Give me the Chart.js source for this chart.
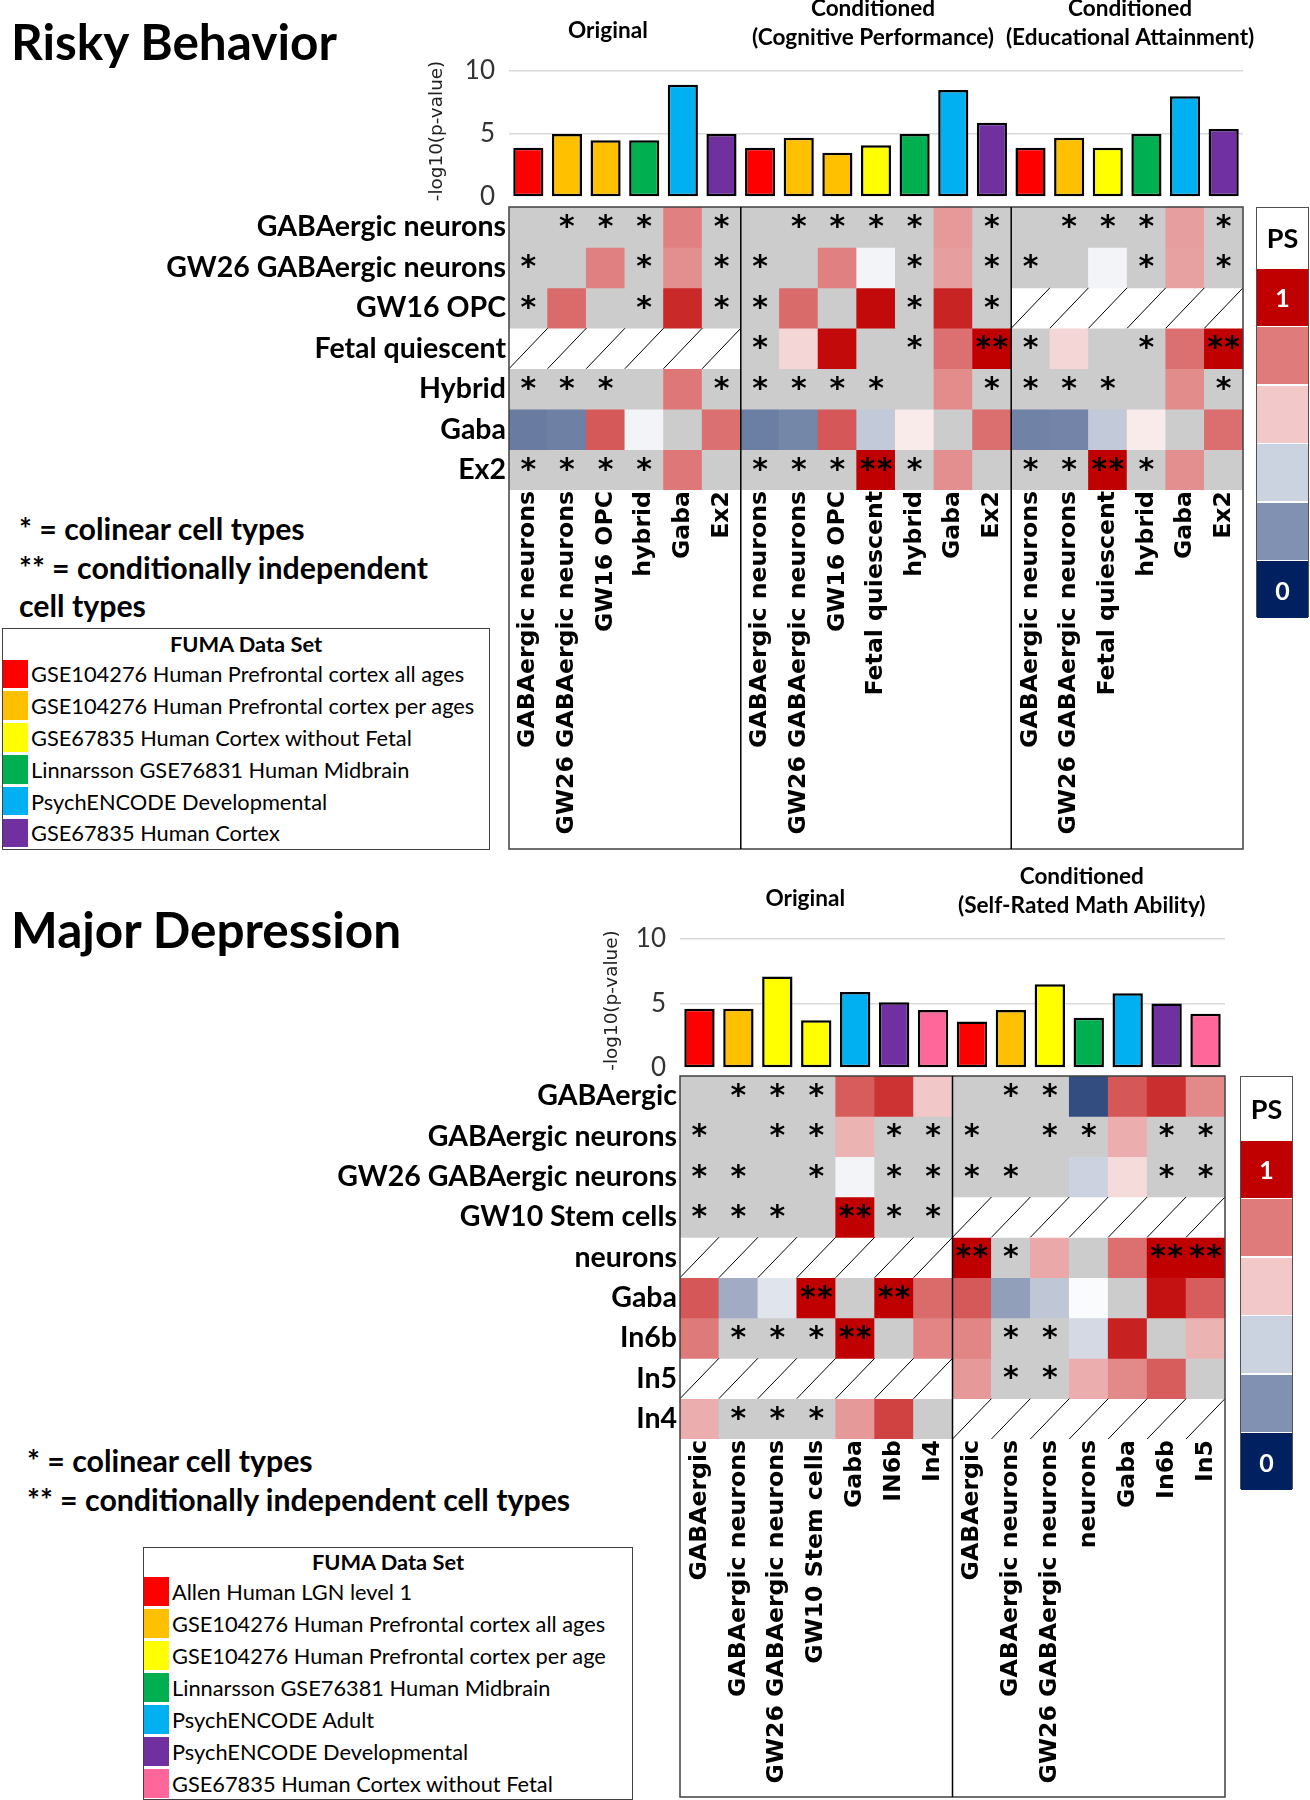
<!DOCTYPE html>
<html>
<head>
<meta charset="utf-8">
<script src="https://cdn.jsdelivr.net/npm/chart.js@4.4.1/dist/chart.umd.min.js"></script>
<style>
  body { margin: 0; background: #fff; }
  #page { position: relative; width: 1310px; height: 1800px; overflow: hidden; font-family: Lato, sans-serif; color: #000; }
  .abs { position: absolute; }
  .title { font-weight: 700; font-size: 49.5px; line-height: 48px; white-space: nowrap; }
  .note { font-weight: 700; font-size: 30.3px; line-height: 38.5px; white-space: nowrap; }
  .legend { position: absolute; border: 1.5px solid #404040; box-sizing: border-box; background: #fff; }
  .legend .lt { font-weight: 700; font-size: 21.8px; text-align: center; }
  .legend .row { position: absolute; left: 0; display: flex; align-items: center; }
  .legend .sw { width: 25px; margin-right: 3px; }
  .legend .lab { font-size: 21.8px; white-space: nowrap; }
  .ps { position: absolute; border: 1.5px solid #505050; box-sizing: border-box; background: #fff; }
  .ps div { position: absolute; left: 0; right: 0; display: flex; align-items: center; justify-content: center; font-weight: 700; }
  canvas { position: absolute; left: 0; }
</style>
</head>
<body>
<div id="page">
  <div class="abs title" style="left:11px;top:17px;">Risky Behavior</div>
  <div class="abs note" style="left:19px;top:509px;">* = colinear cell types<br>** = conditionally independent<br>cell types</div>
  <div class="abs title" style="left:11px;top:905px;">Major Depression</div>
  <div class="abs note" style="left:27px;top:1441px;">* = colinear cell types<br>** = conditionally independent cell types</div>
  <canvas id="rb" width="1310" height="860" style="top:0px;"></canvas>
  <canvas id="md" width="1310" height="940" style="top:860px;"></canvas>
</div>
<script>
// ---------------- shared ----------------
const G = null;      // grey cell (not shown)
const X = 'NA';      // cell type not present in this data set (hatched)
const barTicks = [0, 5, 10];
const psScaleLabels = ['PS', '1', '', '', '', '', '0'];
const psScaleColors = ['#FFFFFF', '#C00000', '#E07B7B', '#F2C8C8', '#CBD3E1', '#8191B1', '#002060'];

// ---------------- Risky Behavior ----------------
const rbColumns = ['GABAergic neurons', 'GW26 GABAergic neurons', 'GW16 OPC', 'hybrid', 'Gaba', 'Ex2',
  'GABAergic neurons', 'GW26 GABAergic neurons', 'GW16 OPC', 'Fetal quiescent', 'hybrid', 'Gaba', 'Ex2',
  'GABAergic neurons', 'GW26 GABAergic neurons', 'Fetal quiescent', 'hybrid', 'Gaba', 'Ex2'];
const rbPanelSizes = [6, 7, 6];
const rbPanelTitles = [['Original'], ['Conditioned', '(Cognitive Performance)'], ['Conditioned', '(Educational Attainment)']];
const rbSets = ['GSE104276 Human Prefrontal cortex all ages', 'GSE104276 Human Prefrontal cortex per ages',
  'GSE67835 Human Cortex without Fetal', 'Linnarsson GSE76831 Human Midbrain', 'PsychENCODE Developmental', 'GSE67835 Human Cortex'];
const rbSetColors = ['#FF0000', '#FFC000', '#FFFF00', '#00B050', '#00B0F0', '#7030A0'];
const rbColumnSet = [0, 1, 1, 3, 4, 5, 0, 1, 1, 2, 3, 4, 5, 0, 1, 2, 3, 4, 5];
const rbNegLog10P = [3.9, 5.0, 4.5, 4.5, 8.9, 5.0, 3.9, 4.7, 3.5, 4.1, 5.0, 8.5, 5.9, 3.9, 4.7, 3.9, 5.0, 8.0, 5.4];
const rbRows = ['GABAergic neurons', 'GW26 GABAergic neurons', 'GW16 OPC', 'Fetal quiescent', 'Hybrid', 'Gaba', 'Ex2'];
const rbPS = [
  [G, G, G, G, .75, G,      G, G, G, G, G, .70, G,        G, G, G, G, .69, G],
  [G, G, .75, G, .72, G,    G, G, .75, .475, G, .69, G,   G, G, .475, G, .685, G],
  [G, .79, G, G, .92, G,    G, .79, G, .98, G, .93, G,    X, X, X, X, X, X],
  [X, X, X, X, X, X,        G, .58, .98, G, G, .78, 1,    G, .58, G, G, .78, 1],
  [G, G, G, G, .765, G,     G, G, G, G, G, .725, G,       G, G, G, G, .725, G],
  [.205, .215, .825, .475, G, .78,  .21, .23, .83, .38, .54, G, .785,  .22, .225, .38, .54, G, .785],
  [G, G, G, G, .765, G,     G, G, G, 1, G, .72, G,        G, G, 1, G, .72, G]
];
const rbStars = [
  ['', '*', '*', '*', '', '*',   '', '*', '*', '*', '*', '', '*',    '', '*', '*', '*', '', '*'],
  ['*', '', '', '*', '', '*',    '*', '', '', '', '*', '', '*',      '*', '', '', '*', '', '*'],
  ['*', '', '', '*', '', '*',    '*', '', '', '', '*', '', '*',      '', '', '', '', '', ''],
  ['', '', '', '', '', '',       '*', '', '', '', '*', '', '**',     '*', '', '', '*', '', '**'],
  ['*', '*', '*', '', '', '*',   '*', '*', '*', '*', '', '', '*',    '*', '*', '*', '', '', '*'],
  ['', '', '', '', '', '',       '', '', '', '', '', '', '',         '', '', '', '', '', ''],
  ['*', '*', '*', '*', '', '',   '*', '*', '*', '**', '*', '', '',   '*', '*', '**', '*', '', '']
];

// ---------------- Major Depression ----------------
const mdColumns = ['GABAergic', 'GABAergic neurons', 'GW26 GABAergic neurons', 'GW10 Stem cells', 'Gaba', 'IN6b', 'In4',
  'GABAergic', 'GABAergic neurons', 'GW26 GABAergic neurons', 'neurons', 'Gaba', 'In6b', 'In5'];
const mdPanelSizes = [7, 7];
const mdPanelTitles = [['Original'], ['Conditioned', '(Self-Rated Math Ability)']];
const mdSets = ['Allen Human LGN level 1', 'GSE104276 Human Prefrontal cortex all ages', 'GSE104276 Human Prefrontal cortex per age',
  'Linnarsson GSE76381 Human Midbrain', 'PsychENCODE Adult', 'PsychENCODE Developmental', 'GSE67835 Human Cortex without Fetal'];
const mdSetColors = ['#FF0000', '#FFC000', '#FFFF00', '#00B050', '#00B0F0', '#7030A0', '#FF6699'];
const mdColumnSet = [0, 1, 2, 2, 4, 5, 6, 0, 1, 2, 3, 4, 5, 6];
const mdNegLog10P = [4.6, 4.6, 7.1, 3.7, 5.9, 5.1, 4.5, 3.6, 4.5, 6.5, 3.9, 5.8, 5.0, 4.2];
const mdRows = ['GABAergic', 'GABAergic neurons', 'GW26 GABAergic neurons', 'GW10 Stem cells', 'neurons', 'Gaba', 'In6b', 'In5', 'In4'];
const mdPS = [
  [G, G, G, G, .82, .90, .61,        G, G, G, .10, .83, .91, .73],
  [G, G, G, G, .65, G, G,            G, G, G, G, .66, G, G],
  [G, G, G, G, .475, G, G,           G, G, G, .40, .57, G, G],
  [G, G, G, G, 1, G, G,              X, X, X, X, X, X, X],
  [X, X, X, X, X, X, X,              1, G, .67, G, .78, 1, 1],
  [.83, .315, .44, 1, G, 1, .79,     .825, .285, .375, .49, G, .965, .82],
  [.76, G, G, G, 1, G, .74,          .74, G, G, .415, .935, G, .65],
  [X, X, X, X, X, X, X,              .70, G, G, .66, .73, .82, G],
  [.66, G, G, G, .70, .87, G,        X, X, X, X, X, X, X]
];
const mdStars = [
  ['', '*', '*', '*', '', '', '',      '', '*', '*', '', '', '', ''],
  ['*', '', '*', '*', '', '*', '*',    '*', '', '*', '*', '', '*', '*'],
  ['*', '*', '', '*', '', '*', '*',    '*', '*', '', '', '', '*', '*'],
  ['*', '*', '*', '', '**', '*', '*',  '', '', '', '', '', '', ''],
  ['', '', '', '', '', '', '',         '**', '*', '', '', '', '**', '**'],
  ['', '', '', '**', '', '**', '',     '', '', '', '', '', '', ''],
  ['', '*', '*', '*', '**', '', '',    '', '*', '*', '', '', '', ''],
  ['', '', '', '', '', '', '',         '', '*', '*', '', '', '', ''],
  ['', '*', '*', '*', '', '', '',      '', '', '', '', '', '', '']
];

// ---------------- helpers ----------------
function psColor(v) {
  let r, g, b;
  if (v >= 0.5) { const t = (v - 0.5) / 0.5; r = 255 + (192 - 255) * t; g = 255 * (1 - t); b = 255 * (1 - t); }
  else { const t = (0.5 - v) / 0.5; r = 255 * (1 - t); g = 255 + (32 - 255) * t; b = 255 + (96 - 255) * t; }
  return `rgb(${Math.round(r)},${Math.round(g)},${Math.round(b)})`;
}
function cellFill(v) { if (v === G) return '#CCCCCC'; if (v === X) return '#FFFFFF'; return psColor(v); }

function makeChart(canvas, d, L) {
  const n = d.columns.length, nr = d.rows.length;
  const datasets = [{
    data: d.values, yAxisID: 'yB',
    backgroundColor: d.columnSet.map(i => d.setColors[i]),
    borderColor: '#000', borderWidth: 2.5, borderSkipped: false,
    barPercentage: 0.78, categoryPercentage: 1, grouped: false
  }];
  d.rows.forEach((row, r) => datasets.push({
    data: d.columns.map(() => [r, r + 1]), yAxisID: 'yH',
    backgroundColor: d.ps[r].map(cellFill), borderWidth: 0,
    barPercentage: 1, categoryPercentage: 1, grouped: false
  }));
  const overlay = {
    id: 'overlay',
    afterDatasetsDraw(chart) {
      const ctx = chart.ctx, xs = chart.scales.x, yH = chart.scales.yH, yB = chart.scales.yB, ca = chart.chartArea;
      const cw = (xs.right - xs.left) / n;
      ctx.save();
      ctx.fillStyle = '#000';
      ctx.textAlign = 'center'; ctx.textBaseline = 'middle';
      ctx.font = 'bold 30px "DejaVu Sans"';
      for (let r = 0; r < nr; r++) {
        const y0 = yH.getPixelForValue(r), y1 = yH.getPixelForValue(r + 1);
        for (let c = 0; c < n; c++) {
          const xc = xs.getPixelForValue(c), x0 = xc - cw / 2, x1 = xc + cw / 2;
          if (d.ps[r][c] === X) {
            ctx.strokeStyle = '#000'; ctx.lineWidth = 1;
            ctx.beginPath(); ctx.moveTo(x0, y1); ctx.lineTo(x1, y0); ctx.stroke();
          }
          const s = d.stars[r][c];
          const ym = (y0 + y1) / 2 + 1;
          if (s === '*') ctx.fillText('*', xc, ym);
          else if (s === '**') { ctx.fillText('*', xc - 8.5, ym); ctx.fillText('*', xc + 8.5, ym); }
        }
      }
      // frame
      ctx.strokeStyle = '#404040'; ctx.lineWidth = 1.5;
      ctx.strokeRect(ca.left, yH.top, ca.right - ca.left, xs.bottom - yH.top - 1);
      ctx.strokeStyle = '#000';
      let acc = 0;
      d.panelSizes.slice(0, -1).forEach(s => {
        acc += s;
        const x = xs.left + acc * cw;
        ctx.beginPath(); ctx.moveTo(x, yH.top); ctx.lineTo(x, xs.bottom - 1); ctx.stroke();
      });
      // panel headers
      ctx.font = 'bold 22.6px Lato';
      acc = 0;
      d.panelSizes.forEach((s, i) => {
        const cx = xs.left + (acc + s / 2) * cw + L.headDx[i];
        const t = d.panelTitles[i];
        if (t.length === 1) ctx.fillText(t[0], cx, ca.top - 40);
        else { ctx.fillText(t[0], cx, ca.top - 62); ctx.fillText(t[1], cx, ca.top - 33); }
        acc += s;
      });
      // y axis title for bars
      ctx.translate(ca.left - L.yTitleDx, (yB.getPixelForValue(10) + yB.getPixelForValue(0)) / 2 - 3);
      ctx.rotate(-Math.PI / 2);
      ctx.font = '18.4px "DejaVu Sans"';
      ctx.fillStyle = '#222';
      ctx.fillText('-log10(p-value)', 0, 0);
      ctx.restore();
    }
  };
  return new Chart(canvas, {
    type: 'bar',
    data: { labels: d.columns, datasets },
    options: {
      responsive: false, animation: false, devicePixelRatio: 1,
      layout: { padding: { left: 0, right: L.right, top: L.top, bottom: L.bottom } },
      plugins: { legend: { display: false }, tooltip: { enabled: false } },
      scales: {
        x: {
          type: 'category', grid: { display: false }, border: { display: false },
          ticks: { autoSkip: false, maxRotation: 90, minRotation: 90, padding: -7, color: '#000',
            font: { family: 'DejaVu Sans', weight: 'bold', size: 23.6 } },
          afterFit(s) { s.height = L.xH; }
        },
        yH: {
          type: 'linear', position: 'left', stack: 's', stackWeight: L.heatH, min: 0, max: nr, reverse: true,
          afterBuildTicks(s) { s.ticks = d.rows.map((_, i) => ({ value: i + 0.5 })); },
          grid: { display: false }, border: { display: false },
          ticks: { autoSkip: false, padding: -5, color: '#000', font: { family: 'Lato', weight: 'bold', size: 28.5 },
            callback: v => d.rows[Math.floor(v)] },
          afterFit(s) { s.width = L.axisW; }
        },
        yB: {
          type: 'linear', position: 'left', stack: 's', stackWeight: L.barH, min: L.barMin, max: 10,
          afterBuildTicks(s) { s.ticks = barTicks.map(v => ({ value: v })); },
          grid: { color: c => (c.tick && c.tick.value === 0) ? 'rgba(0,0,0,0)' : '#D9D9D9', lineWidth: 1.5, drawTicks: false },
          border: { display: false },
          ticks: { padding: 14, color: '#333', font: { family: 'Lato', size: 26 } },
          afterFit(s) { s.width = L.axisW; }
        }
      }
    },
    plugins: [overlay]
  });
}

function fumaLegend(sets, colors, box) {
  const el = document.createElement('div');
  el.className = 'legend';
  Object.assign(el.style, { left: box.left + 'px', top: box.top + 'px', width: box.width + 'px', height: box.height + 'px' });
  const t = document.createElement('div');
  t.className = 'lt'; t.textContent = 'FUMA Data Set';
  Object.assign(t.style, { position: 'absolute', left: 0, right: 0, top: 0, height: box.rowTop + 'px', lineHeight: box.rowTop + 'px' });
  el.appendChild(t);
  sets.forEach((s, i) => {
    const row = document.createElement('div');
    row.className = 'row';
    Object.assign(row.style, { top: (box.rowTop + i * box.rowH) + 'px', height: box.rowH + 'px' });
    const sw = document.createElement('div');
    sw.className = 'sw';
    Object.assign(sw.style, { background: colors[i], height: (box.rowH - 3) + 'px' });
    const lab = document.createElement('div');
    lab.className = 'lab'; lab.textContent = s;
    row.appendChild(sw); row.appendChild(lab);
    el.appendChild(row);
  });
  document.getElementById('page').appendChild(el);
}

function psLegend(box) {
  const el = document.createElement('div');
  el.className = 'ps';
  Object.assign(el.style, { left: box.left + 'px', top: box.top + 'px', width: box.width + 'px', height: box.height + 'px' });
  const segH = (box.height - box.firstH) / (psScaleColors.length - 1);
  psScaleColors.forEach((c, i) => {
    const s = document.createElement('div');
    const top = i === 0 ? 0 : box.firstH + (i - 1) * segH + 1.5;
    const h = i === 0 ? box.firstH : segH - 1.5;
    Object.assign(s.style, { top: top + 'px', height: h + 'px', background: c,
      color: i === 0 ? '#000' : '#fff', fontSize: i === 0 ? '27px' : '25px' });
    s.textContent = psScaleLabels[i];
    el.appendChild(s);
  });
  document.getElementById('page').appendChild(el);
}

function draw() {
  makeChart(document.getElementById('rb'), {
    columns: rbColumns, panelSizes: rbPanelSizes, panelTitles: rbPanelTitles, columnSet: rbColumnSet,
    setColors: rbSetColors, values: rbNegLog10P, rows: rbRows, ps: rbPS, stars: rbStars
  }, { axisW: 509, right: 67, top: 71, bottom: 10, xH: 360, barH: 136, heatH: 283, barMin: -0.8, yTitleDx: 72,
       headDx: [-17, -3, 3] });
  makeChart(document.getElementById('md'), {
    columns: mdColumns, panelSizes: mdPanelSizes, panelTitles: mdPanelTitles, columnSet: mdColumnSet,
    setColors: mdSetColors, values: mdNegLog10P, rows: mdRows, ps: mdPS, stars: mdStars
  }, { axisW: 680, right: 85, top: 79, bottom: 2, xH: 359, barH: 137, heatH: 363, barMin: -0.62, yTitleDx: 68,
       headDx: [-11, -7] });
  fumaLegend(rbSets, rbSetColors, { left: 2, top: 628, width: 488, height: 222, rowTop: 29, rowH: 31.8 });
  fumaLegend(mdSets, mdSetColors, { left: 143, top: 1547, width: 490, height: 253, rowTop: 27, rowH: 32 });
  psLegend({ left: 1256, top: 207, width: 53, height: 410, firstH: 59 });
  psLegend({ left: 1240, top: 1076, width: 53, height: 413, firstH: 62 });
}

Promise.all([
  document.fonts.load('bold 25px Lato'), document.fonts.load('22px Lato'),
  document.fonts.load('bold 24px "DejaVu Sans"'), document.fonts.load('17px "DejaVu Sans"')
]).then(draw, draw);
</script>
</body>
</html>
